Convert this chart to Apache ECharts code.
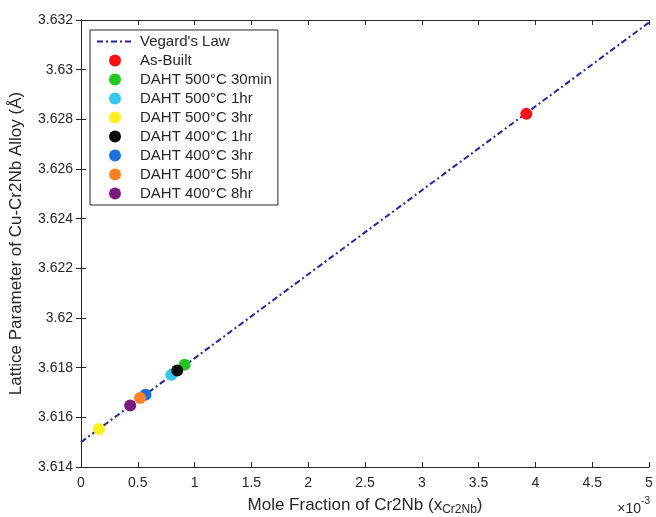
<!DOCTYPE html>
<html><head><meta charset="utf-8">
<script src="https://cdn.jsdelivr.net/npm/echarts@6/dist/echarts.min.js"></script>
<style>html,body{margin:0;padding:0;background:#fff}#c{width:656px;height:517px}</style>
</head><body><div id="c"></div>
<script>
// x values in units of 1e-3 (axis shows ×10^-3)
const seriesNames = ["As-Built","DAHT 500°C 30min","DAHT 500°C 1hr","DAHT 500°C 3hr","DAHT 400°C 1hr","DAHT 400°C 3hr","DAHT 400°C 5hr","DAHT 400°C 8hr"];
const pointX = [3.92, 0.912, 0.795, 0.157, 0.847, 0.568, 0.520, 0.433];
const pointY = [3.62822, 3.61812, 3.61771, 3.61553, 3.61789, 3.61691, 3.61678, 3.61648];
const pointColors = ["#ff1010","#1ec81e","#30c8ec","#fff01a","#0a0a0a","#1c6fe0","#ff8020","#7a1a7e"];
const vegardName = "Vegard's Law";
const vegardX = [0, 5];
const vegardY = [3.615, 3.6319];
const xTicks = {min: 0, max: 5, interval: 0.5};
const yTicks = {min: 3.614, max: 3.632, interval: 0.002};

const chart = echarts.init(document.getElementById('c'), null, {renderer: 'canvas'});
const fontFam = 'Liberation Sans, Arial, sans-serif';
const axisCommon = {
  axisLine: {show: true, lineStyle: {color: '#262626', width: 1}},
  axisTick: {show: true, inside: true, length: 5, lineStyle: {color: '#262626'}},
  splitLine: {show: false}
};
const fmt = v => String(parseFloat(v.toFixed(4)));
const series = [{
  name: vegardName, type: 'line', data: vegardX.map((x, i) => [x, vegardY[i]]),
  symbol: 'none', z: 1,
  lineStyle: {color: '#2323a8', width: 2, type: [6, 3, 2, 3]},
  itemStyle: {color: '#2323a8'}
}];
seriesNames.forEach((n, i) => {
  series.push({
    name: n, type: 'scatter', data: [[pointX[i], pointY[i]]], symbolSize: 12, z: 3,
    itemStyle: {color: pointColors[i], opacity: 1}
  });
});
chart.setOption({
  animation: false,
  grid: {left: 81, right: 7, top: 20, bottom: 50, containLabel: false, outerBoundsMode: 'none'},
  xAxis: [
    Object.assign({type: 'value', position: 'bottom', min: xTicks.min, max: xTicks.max, interval: xTicks.interval,
      axisLabel: {color: '#262626', fontSize: 14, fontFamily: fontFam, margin: 9, formatter: fmt},
      name: '{a|Mole Fraction of Cr2Nb (x}{b|Cr2Nb}{a|)}', nameLocation: 'middle', nameGap: 27,
      nameTextStyle: {rich: {a: {fontSize: 17, fontFamily: fontFam, color: '#262626', lineHeight: 22},
        b: {fontSize: 12, fontFamily: fontFam, color: '#262626', verticalAlign: 'bottom', lineHeight: 12}}}
    }, axisCommon),
    Object.assign({type: 'value', position: 'top', min: xTicks.min, max: xTicks.max, interval: xTicks.interval,
      axisLabel: {show: false}}, axisCommon)
  ],
  yAxis: [
    Object.assign({type: 'value', position: 'left', min: yTicks.min, max: yTicks.max, interval: yTicks.interval,
      axisLabel: {color: '#262626', fontSize: 14, fontFamily: fontFam, margin: 8, formatter: fmt},
      name: 'Lattice Parameter of Cu-Cr2Nb Alloy (Å)', nameLocation: 'middle', nameGap: 56,
      nameTextStyle: {fontSize: 17, fontFamily: fontFam, color: '#262626'}
    }, axisCommon),
    Object.assign({type: 'value', position: 'right', min: yTicks.min, max: yTicks.max, interval: yTicks.interval,
      axisLabel: {show: false}}, axisCommon)
  ],
  legend: {
    orient: 'vertical', left: 90, top: 30,
    backgroundColor: '#fff', borderColor: '#262626', borderWidth: 1,
    padding: [4, 6, 4, 6], itemGap: 4, itemWidth: 36, itemHeight: 12,
    textStyle: {fontSize: 15, fontFamily: fontFam, color: '#262626', padding: [0, 0, 0, 2]},
    data: [{name: vegardName, itemStyle: {opacity: 0}}].concat(seriesNames.map(n => ({name: n, icon: 'circle'})))
  },
  graphic: [{
    type: 'text', right: 6, top: 496,
    style: {text: '{a|×10}{b|-3}', fill: '#262626',
      rich: {a: {fontSize: 14, fontFamily: fontFam, fill: '#262626', lineHeight: 20, verticalAlign: 'bottom'},
             b: {fontSize: 10, fontFamily: fontFam, fill: '#262626', verticalAlign: 'top', lineHeight: 20}}}
  }],
  series: series
});
</script></body></html>
